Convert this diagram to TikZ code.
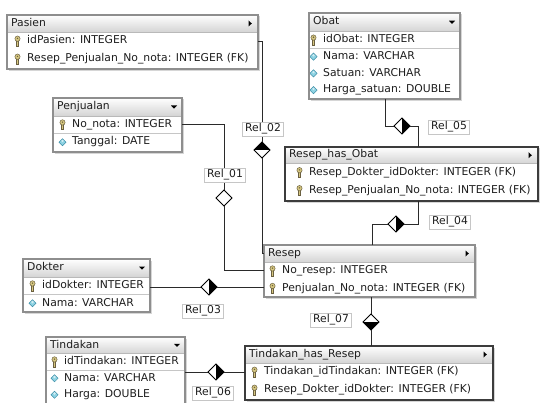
\documentclass[tikz,border=0pt]{standalone}
\usepackage{fontspec}
\setmainfont{DejaVu Sans}
\usetikzlibrary{fit,shapes.geometric}
\definecolor{framegray}{HTML}{8E8E8E}
\definecolor{framedark}{HTML}{3C3C3C}
\definecolor{hdrc}{HTML}{D4D4D4}
\definecolor{shadowc}{HTML}{D6D6D6}
\definecolor{keyfill}{HTML}{D6C780}
\definecolor{keydraw}{HTML}{6B6040}
\definecolor{attrfill}{HTML}{8ED3E3}
\definecolor{attrdraw}{HTML}{3F8FA8}
\definecolor{linec}{HTML}{2A2A2A}
\definecolor{textc}{HTML}{1E1E1E}
\tikzset{
  rowtext/.style={font=\fontsize{10.8}{12}\selectfont, text=textc, inner sep=0pt, text height=8pt, text depth=2.5pt},
  titletext/.style={rowtext},
  sepline/.style={draw=gray!45, line width=0.6pt},
  hdrline/.style={draw=gray!55, line width=0.6pt},
  conn/.style={draw=linec, line width=0.9pt},
  reldiamond/.style={diamond, draw=black, fill=white, line width=0.9pt, minimum width=16pt, minimum height=16pt, inner sep=0pt, outer sep=0pt, shape aspect=1},
  halfright/.style={path picture={\fill[black] (path picture bounding box.north) -- (path picture bounding box.east) -- (path picture bounding box.south) -- cycle;}},
  halftop/.style={path picture={\fill[black] (path picture bounding box.north) -- (path picture bounding box.east) -- (path picture bounding box.west) -- cycle;}},
  halfbottom/.style={path picture={\fill[black] (path picture bounding box.south) -- (path picture bounding box.east) -- (path picture bounding box.west) -- cycle;}},
  rellabel/.style={draw=gray!45, fill=white, font=\fontsize{10.8}{12}\selectfont, text=textc, inner xsep=2.5pt, inner ysep=1.5pt, text height=8pt, text depth=2.5pt},
  keyicon/.pic={
    \filldraw[fill=keyfill, draw=keydraw, line width=0.5pt] (-0.9,-1) rectangle (0.9,5);
    \filldraw[fill=keyfill, draw=keydraw, line width=0.5pt] (0,-2.3) ellipse (2.6 and 2.7);
    \fill[keydraw] (0,-2.6) circle (0.8);
  },
  attricon/.pic={
    \filldraw[fill=attrfill, draw=attrdraw, line width=0.5pt] (0,-3.6) -- (3.6,0) -- (0,3.6) -- (-3.6,0) -- cycle;
    \fill[white, opacity=0.6] (0,-2.6) -- (1.3,-1.3) -- (0,0) -- (-1.3,-1.3) -- cycle;
  },
  downtri/.pic={\fill[black] (-3,-1.5) -- (3,-1.5) -- (0,1.7) -- cycle;},
  righttri/.pic={\fill[black] (-1.5,-3) -- (1.8,0) -- (-1.5,3) -- cycle;},
}
\pgfkeys{/er/.cd,
  left/.store in=\erL, top/.store in=\erT, right/.store in=\erR, bottom/.store in=\erB,
  rowh/.store in=\erH, hdr/.store in=\erHd, arrow/.store in=\erA, frame/.store in=\erF, toff/.store in=\erO}
\newcommand\ertable[4]{%
  \pgfkeys{/er/.cd, rowh=17.5, hdr=17.5, arrow=d, frame=framegray, toff=19, #2}%
  \fill[shadowc] ({\erL+1.5},{\erT+1.5}) rectangle ({\erR+2.4},{\erB+2.4});
  \path (\erL,\erT) coordinate (#1-nw) (\erR,\erB) coordinate (#1-se);
  \node[fit=(#1-nw)(#1-se), inner sep=0pt, outer sep=0pt, fill=white] (#1) {};
  \shade[top color=white, bottom color=hdrc] (\erL,\erT) rectangle (\erR,{\erT+\erHd});
  \draw[hdrline] (\erL,{\erT+\erHd}) -- (\erR,{\erT+\erHd});
  \node[titletext, anchor=west] (#1-title) at ({\erL+4},{\erT+\erHd/2}) {#3};
  \if\erA d\pic at ({\erR-8},{\erT+\erHd/2}) {downtri};\else\pic at ({\erR-8},{\erT+\erHd/2}) {righttri};\fi
  \foreach \rowkind/\rowtxt [count=\rowi] in {#4} {%
    \pgfmathsetmacro\rowy{\erT+\erHd+(\rowi-0.5)*\erH}
    \if\rowkind s\draw[sepline] (\erL,{\rowy-\erH/2}) -- (\erR,{\rowy-\erH/2});\fi
    \if\rowkind k\pic at ({\erL+\erO-9.5},\rowy) {keyicon};\else\pic at ({\erL+\erO-9.5},\rowy) {attricon};\fi
    \node[rowtext, anchor=west] (#1-r\rowi) at ({\erL+\erO},\rowy) {\rowtxt};
  }
  \draw[line width=1.5pt, draw=\erF] (#1-nw) rectangle (#1-se);
}
\begin{document}
\begin{tikzpicture}[x=1pt, y=-1pt]
\useasboundingbox (0,0) rectangle (540,403);
\clip (0,0) rectangle (540,403);
\fill[white] (0,0) rectangle (540,403);

% tables
\ertable{Pasien}{left=7, top=15, right=258, bottom=69, hdr=17, rowh=18, arrow=r, toff=20}{Pasien}
  {k/{idPasien: INTEGER}, k/{Resep\_Penjualan\_No\_nota: INTEGER (FK)}}
\ertable{Penjualan}{left=53, top=98, right=182, bottom=152, hdr=18, rowh=17.5, toff=19}{Penjualan}
  {k/{No\_nota: INTEGER}, s/{Tanggal: DATE}}
\ertable{Obat}{left=309, top=13, right=460, bottom=99, hdr=18.5, rowh=16.75, toff=14}{Obat}
  {k/{idObat: INTEGER}, s/{Nama: VARCHAR}, a/{Satuan: VARCHAR}, a/{Harga\_satuan: DOUBLE}}
\ertable{RHO}{left=285, top=147, right=538, bottom=201, hdr=16.5, rowh=18, arrow=r, toff=24, frame=framedark}{Resep\_has\_Obat}
  {k/{Resep\_Dokter\_idDokter: INTEGER (FK)}, k/{Resep\_Penjualan\_No\_nota: INTEGER (FK)}}
\ertable{Resep}{left=264, top=245, right=475, bottom=297, hdr=17, rowh=17.5, arrow=r, toff=18}{Resep}
  {k/{No\_resep: INTEGER}, k/{Penjualan\_No\_nota: INTEGER (FK)}}
\ertable{Dokter}{left=23, top=259, right=150, bottom=312, hdr=18, rowh=17.5, toff=19}{Dokter}
  {k/{idDokter: INTEGER}, s/{Nama: VARCHAR}}
\ertable{Tindakan}{left=46, top=337, right=185, bottom=407, hdr=16.5, rowh=16.5, toff=18}{Tindakan}
  {k/{idTindakan: INTEGER}, s/{Nama: VARCHAR}, a/{Harga: DOUBLE}}
\ertable{THR}{left=245, top=346, right=493, bottom=400, hdr=17, rowh=18, arrow=r, toff=19, frame=framedark}{Tindakan\_has\_Resep}
  {k/{Tindakan\_idTindakan: INTEGER (FK)}, k/{Resep\_Dokter\_idDokter: INTEGER (FK)}}

% relationship diamonds
\node[reldiamond, halftop] (d2) at (262,150) {};
\node[reldiamond] (d1) at (224,198) {};
\node[reldiamond, halfright] (d3) at (209,287) {};
\node[reldiamond, halfright] (d4) at (396,224) {};
\node[reldiamond, halfright] (d5) at (402,126) {};
\node[reldiamond, halfright] (d6) at (216,372) {};
\node[reldiamond, halfbottom] (d7) at (371,322) {};

% waypoints
\coordinate (k4a) at (418,224);
\coordinate (k4b) at (372,224);
\coordinate (k5a) at (385,126);
\coordinate (k5b) at (418,126);

% connectors
\begin{scope}[on background layer/.style={}]
\draw[conn] (Pasien.east |- Pasien-r1) -| (d2.north);
\draw[conn] (d2.south) |- (Resep.west |- Resep-title);
\draw[conn] (Penjualan.east |- Penjualan-r1) -| (d1.north);
\draw[conn] (d1.south) |- (Resep.west |- Resep-r1);
\draw[conn] (Dokter.east |- d3) -- (d3.west);
\draw[conn] (d3.east) -- (Resep.west |- d3);
\draw[conn] (RHO.south -| k4a) -- (k4a) -- (d4.east);
\draw[conn] (d4.west) -- (k4b) -- (Resep.north -| k4b);
\draw[conn] (Obat.south -| k5a) -- (k5a) -- (d5.west);
\draw[conn] (d5.east) -- (k5b) -- (RHO.north -| k5b);
\draw[conn] (Tindakan.east |- d6) -- (d6.west);
\draw[conn] (d6.east) -- (THR.west |- d6);
\draw[conn] (Resep.south -| d7) -- (d7.north);
\draw[conn] (d7.south) -- (THR.north -| d7);
\end{scope}

% labels
\node[rellabel] (l2) at (263,129) {Rel\_02};
\node[rellabel] (l1) at (225,175) {Rel\_01};
\node[rellabel] (l3) at (203,311) {Rel\_03};
\node[rellabel] (l4) at (450,222) {Rel\_04};
\node[rellabel] (l5) at (449,127) {Rel\_05};
\node[rellabel] (l6) at (213,393) {Rel\_06};
\node[rellabel] (l7) at (331,320) {Rel\_07};
\end{tikzpicture}
\end{document}
